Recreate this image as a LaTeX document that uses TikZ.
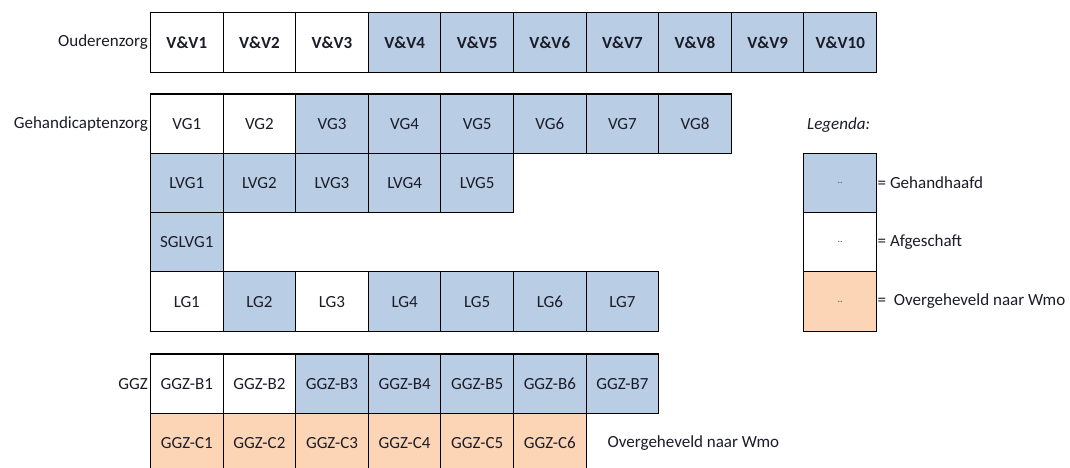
\documentclass[tikz,border=0pt]{standalone}
\usepackage{fontspec}
\setmainfont{Carlito}
\definecolor{keep}{HTML}{B9CDE5}
\definecolor{wmo}{HTML}{FBD5B5}
\definecolor{ink}{HTML}{1C1C28}
\begin{document}
\begin{tikzpicture}[x=1pt,y=-1pt,
  cell/.style={draw=black,line width=1.1pt,minimum width=72.6pt,minimum height=59.3pt,inner sep=0pt,anchor=center,text=ink,font=\fontsize{17}{20}\selectfont},
  bcell/.style={cell,font=\fontsize{17}{20}\selectfont\bfseries},
  lab/.style={inner sep=0pt,text=ink,font=\fontsize{17}{20}\selectfont},
  dots/.style={inner sep=0pt,text=black!70,font=\fontsize{10}{12}\selectfont}]
\fill[white] (0,0) rectangle (1070,468);
\useasboundingbox (0,0) rectangle (1070,468);
\clip (0,0) rectangle (1070,468);
% Ouderenzorg
\node[lab,anchor=east] (lo) at (148,42.5) {Ouderenzorg};
\foreach \t/\c [count=\i] in {V\&V1/white,V\&V2/white,V\&V3/white,V\&V4/keep,V\&V5/keep,V\&V6/keep,V\&V7/keep,V\&V8/keep,V\&V9/keep,V\&V10/keep}
  \node[bcell,fill=\c] (vv\i) at ({186.8+72.6*(\i-1)},42.5) {\t};
% Gehandicaptenzorg
\node[lab,anchor=east] (lg) at (148,123.65) {Gehandicaptenzorg};
\foreach \t/\c [count=\i] in {VG1/white,VG2/white,VG3/keep,VG4/keep,VG5/keep,VG6/keep,VG7/keep,VG8/keep}
  \node[cell,fill=\c] (vg\i) at ({186.8+72.6*(\i-1)},123.65) {\t};
\foreach \t/\c [count=\i] in {LVG1/keep,LVG2/keep,LVG3/keep,LVG4/keep,LVG5/keep}
  \node[cell,fill=\c] (lvg\i) at ({186.8+72.6*(\i-1)},182.95) {\t};
\node[cell,fill=keep] (sglvg1) at (186.8,242.25) {SGLVG1};
\foreach \t/\c [count=\i] in {LG1/white,LG2/keep,LG3/white,LG4/keep,LG5/keep,LG6/keep,LG7/keep}
  \node[cell,fill=\c] (lgc\i) at ({186.8+72.6*(\i-1)},301.55) {\t};
% GGZ
\node[lab,anchor=east] (lggz) at (148,383.65) {GGZ};
\foreach \t/\c [count=\i] in {GGZ-B1/white,GGZ-B2/white,GGZ-B3/keep,GGZ-B4/keep,GGZ-B5/keep,GGZ-B6/keep,GGZ-B7/keep}
  \node[cell,fill=\c] (gb\i) at ({186.8+72.6*(\i-1)},383.65) {\t};
\foreach \t/\c [count=\i] in {GGZ-C1/wmo,GGZ-C2/wmo,GGZ-C3/wmo,GGZ-C4/wmo,GGZ-C5/wmo,GGZ-C6/wmo}
  \node[cell,fill=\c] (gc\i) at ({186.8+72.6*(\i-1)},442.95) {\t};
\node[lab,anchor=west] (ow) at (607.5,442.95) {Overgeheveld naar Wmo};
% Legend
\node[lab,anchor=west,font=\fontsize{17}{20}\selectfont\itshape] (leg) at (807,125) {Legenda:};
\node[cell,fill=keep] (k1) at (840.2,182.95) {};
\node[cell,fill=white] (k2) at (840.2,242.25) {};
\node[cell,fill=wmo] (k3) at (840.2,301.55) {};
\node[dots] (d1) at (k1) {..};
\node[dots] (d2) at (k2) {..};
\node[dots] (d3) at (k3) {..};
\node[lab,anchor=west] (t1) at (877.5,182.95) {= Gehandhaafd};
\node[lab,anchor=west] (t2) at (877.5,242.25) {= Afgeschaft};
\node[lab,anchor=west] (t3) at (877.5,301.55) {=\ \ Overgeheveld naar Wmo};
\end{tikzpicture}
\end{document}
